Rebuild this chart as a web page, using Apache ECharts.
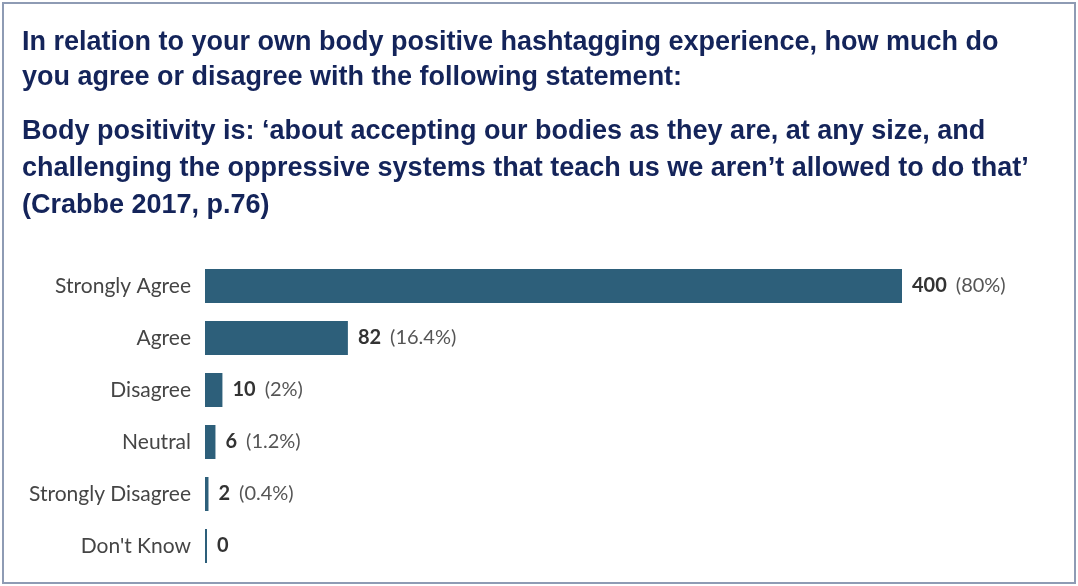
<!DOCTYPE html>
<html>
<head>
<meta charset="utf-8">
<script src="https://cdn.jsdelivr.net/npm/echarts@6/dist/echarts.min.js"></script>
<style>
  html, body { margin: 0; padding: 0; background: #ffffff; }
  #chart { width: 1078px; height: 586px; }
</style>
</head>
<body>
<div id="chart"></div>
<script>
// Survey responses on the body positivity definition
const categories = ['Strongly Agree', 'Agree', 'Disagree', 'Neutral', 'Strongly Disagree', "Don't Know"];
const counts = [400, 82, 10, 6, 2, 0];
const percentLabels = ['80%', '16.4%', '2%', '1.2%', '0.4%', ''];

const questionText = 'In relation to your own body positive hashtagging experience, how much do\nyou agree or disagree with the following statement:';
const statementText = 'Body positivity is: \u2018about accepting our bodies as they are, at any size, and\nchallenging the oppressive systems that teach us we aren\u2019t allowed to do that\u2019\n(Crabbe 2017, p.76)';

const chart = echarts.init(document.getElementById('chart'));

const titleStyle = {
  fontFamily: 'Liberation Sans, Arial, sans-serif',
  fontWeight: 'bold',
  fontSize: 27,
  color: '#14245a'
};

chart.setOption({
  animation: false,
  backgroundColor: '#ffffff',
  title: [
    { text: questionText, left: 22, top: 25, padding: 0, textStyle: Object.assign({ lineHeight: 35 }, titleStyle) },
    { text: statementText, left: 22, top: 113, padding: 0, textStyle: Object.assign({ lineHeight: 37 }, titleStyle) }
  ],
  graphic: [{
    type: 'rect',
    shape: { x: 3, y: 3, width: 1072, height: 580 },
    style: { fill: 'none', stroke: '#8e9bb4', lineWidth: 2 },
    silent: true
  }],
  grid: { left: 205, right: 176, top: 260, bottom: 14, containLabel: false },
  xAxis: {
    type: 'value', min: 0, max: 400,
    show: false
  },
  yAxis: {
    type: 'category',
    data: categories,
    inverse: true,
    axisLine: { show: false },
    axisTick: { show: false },
    axisLabel: {
      margin: 14,
      fontFamily: 'Lato, sans-serif',
      fontSize: 21,
      color: '#454545'
    }
  },
  series: [{
    type: 'bar',
    data: counts,
    barWidth: 34,
    barMinHeight: 2,
    itemStyle: { color: '#2d5f7a' },
    label: {
      show: true,
      position: 'right',
      distance: 10,
      formatter: p => {
        const pct = percentLabels[p.dataIndex];
        return pct ? '{v|' + p.value + '}{p|(' + pct + ')}' : '{v|' + p.value + '}';
      },
      rich: {
        v: { fontFamily: 'Lato, sans-serif', fontWeight: 'bold', fontSize: 20, color: '#333333', padding: [0, 9, 0, 0] },
        p: { fontFamily: 'Lato, sans-serif', fontSize: 20, color: '#555555' }
      }
    }
  }]
});
</script>
</body>
</html>
